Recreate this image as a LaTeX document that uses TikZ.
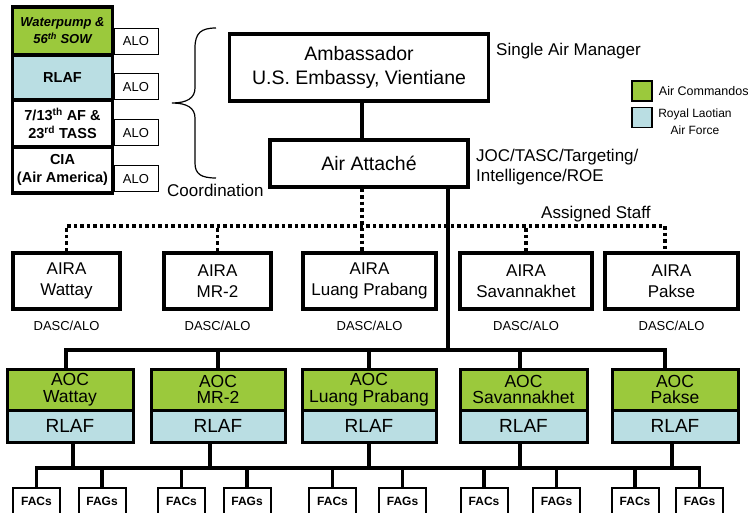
\documentclass[tikz,border=0pt]{standalone}
\usepackage{fontspec}
\setmainfont{Liberation Sans}
\definecolor{commando}{RGB}{155,201,60}
\definecolor{laos}{RGB}{186,222,227}
\usetikzlibrary{positioning}

\begin{document}
\begin{tikzpicture}[x=1pt, y=-1pt,
                    every node/.style = {text=black, inner sep=0pt, align=center},
                    box/.style = {draw, line width=3.5pt, font=\fontsize{19.5}{24}\selectfont},
                    aira/.style = {draw, line width=3.5pt, minimum height=56pt, font=\fontsize{17}{20.5}\selectfont},
                    aoc/.style = {draw, line width=3pt, fill=commando, minimum height=41pt, font=\fontsize{17.5}{16.5}\selectfont},
                    rlaf/.style = {draw, line width=3pt, fill=laos, minimum height=32pt, font=\fontsize{19}{22}\selectfont},
                    unit/.style = {draw, line width=3.5pt, minimum width=100pt, font=\bfseries\fontsize{14.5}{17.5}\selectfont},
                    alo/.style = {draw, line width=1pt, fill=white, minimum width=44pt, minimum height=26pt, font=\fontsize{13}{15}\selectfont},
                    fac/.style = {draw, line width=2pt, minimum width=47pt, minimum height=26pt, font=\bfseries\fontsize{12}{14}\selectfont},
                    note/.style = {font=\fontsize{13}{15}\selectfont},
                    say/.style = {font=\fontsize{17}{20}\selectfont, align=left},
                    link/.style = {draw, line width=3.5pt},
                    staff/.style = {draw, line width=3.5pt, dash pattern=on 3.5pt off 3pt}]
    \useasboundingbox (0,0) rectangle (753,513);
    \node (wp) [unit, fill=commando, minimum height=48pt, font=\bfseries\itshape\fontsize{13}{17}\selectfont] at (62.5,31) {Waterpump \&\\56\textsuperscript{th} SOW};
    \node (rl) [unit, fill=laos, minimum height=45pt] at (62.5,77.5) {RLAF};
    \node (af) [unit, minimum height=47pt] at (62.5,123.5) {7/13\textsuperscript{th} AF \&\\23\textsuperscript{rd} TASS};
    \node (cia) [unit, minimum height=46pt] at (62.5,170) {CIA\\(Air America)};
    \node (alo1) [alo] at (136,41.5) {ALO};
    \node (alo2) [alo] at (136,87) {ALO};
    \node (alo3) [alo] at (136,133) {ALO};
    \node (alo4) [alo] at (136,179) {ALO};
    \draw[line width=1.2pt] (216,28) .. controls (201,28) and (195,33) .. (195,48) -- (195,88)
        .. controls (195,98) and (187,103) .. (172,103) .. controls (187,103) and (195,108) .. (195,118)
        -- (195,163) .. controls (195,174) and (201,178) .. (216,178);
    \node (coord) [say, anchor=base west] at (167,197) {Coordination};
    \node (amb) [box, minimum width=259pt, minimum height=67pt] at (359,67.5) {Ambassador\\U.S. Embassy, Vientiane};
    \node (sam) [say, anchor=base west] at (496,56) {Single Air Manager};
    \node (att) [box, minimum width=198pt, minimum height=47pt] at (369,163.5) {Air Attaché};
    \node (joc) [say, anchor=north west] at (476,149) {JOC/TASC/Targeting/\\Intelligence/ROE};
    \node (gsq) [draw, line width=1.5pt, fill=commando, minimum size=20pt] at (642,91) {};
    \node (bsq) [draw, line width=1.5pt, fill=laos, minimum size=20pt] at (642,117.5) {};
    \node (gtx) [note, font=\fontsize{12.5}{15}\selectfont, right=6pt of gsq] {Air Commandos};
    \node (btx) [note, font=\fontsize{12}{17}\selectfont] at (695,122) {Royal Laotian\\Air Force};
    \node (as) [say, anchor=base west] at (541,219) {Assigned Staff};
    \node (aira1) [aira, minimum width=107pt] at (66.5,281) {AIRA\\Wattay};
    \node (aira2) [aira, minimum width=107pt] at (217.5,281) {AIRA\\MR-2};
    \node (aira3) [aira, minimum width=133pt] at (369.5,281) {AIRA\\Luang Prabang};
    \node (aira4) [aira, minimum width=132pt] at (526,281) {AIRA\\Savannakhet};
    \node (aira5) [aira, minimum width=133pt] at (671.5,281) {AIRA\\Pakse};
    \node (d1) [note, below=10pt of aira1] {DASC/ALO};
    \node (d2) [note, below=10pt of aira2] {DASC/ALO};
    \node (d3) [note, below=10pt of aira3] {DASC/ALO};
    \node (d4) [note, below=10pt of aira4] {DASC/ALO};
    \node (d5) [note, below=10pt of aira5] {DASC/ALO};
    \node (aoc1) [aoc, minimum width=126pt] at (70,389.5) {AOC\\Wattay};
    \node (aoc2) [aoc, minimum width=134pt] at (218,389.5) {AOC\\MR-2};
    \node (aoc3) [aoc, minimum width=134pt] at (369,389.5) {AOC\\Luang Prabang};
    \node (aoc4) [aoc, minimum width=127pt] at (523.5,389.5) {AOC\\Savannakhet};
    \node (aoc5) [aoc, minimum width=126pt] at (675,389.5) {AOC\\Pakse};
    \node (rlaf1) [rlaf, minimum width=126pt] at (70,426) {RLAF};
    \node (rlaf2) [rlaf, minimum width=134pt] at (218,426) {RLAF};
    \node (rlaf3) [rlaf, minimum width=134pt] at (369,426) {RLAF};
    \node (rlaf4) [rlaf, minimum width=127pt] at (523.5,426) {RLAF};
    \node (rlaf5) [rlaf, minimum width=126pt] at (675,426) {RLAF};
    \node (fac1) [fac] at (36.5,501) {FACs};
    \node (fag1) [fac] at (102,501) {FAGs};
    \node (fac2) [fac] at (181.5,501) {FACs};
    \node (fag2) [fac] at (247,501) {FAGs};
    \node (fac3) [fac] at (332.5,501) {FACs};
    \node (fag3) [fac] at (402.5,501) {FAGs};
    \node (fac4) [fac] at (484,501) {FACs};
    \node (fag4) [fac] at (556.5,501) {FAGs};
    \node (fac5) [fac] at (635,501) {FACs};
    \node (fag5) [fac] at (699.5,501) {FAGs};
    \coordinate (sb) at (362,226);
    \coordinate (ab) at (448,350);
    \coordinate (fb) at (36,468);
    \draw[link] ([xshift=3pt]amb.south) -- ([xshift=3pt]amb.south |- att.north);
    \draw[staff] (att.south -| sb) -- (sb |- aira3.north);
    \draw[staff] (aira1.north) -- (aira1.north |- sb) -- ([xshift=-6.5pt]aira5.north |- sb) -- ([xshift=-6.5pt]aira5.north);
    \draw[staff] (aira2.north) -- (aira2.north |- sb);
    \draw[staff] (aira4.north) -- (aira4.north |- sb);
    \draw[link] (att.south -| ab) -- (ab);
    \draw[link] ([xshift=-4pt]aoc1.north) -- ([xshift=-4pt]aoc1.north |- ab) -- ([xshift=-10pt]aoc5.north |- ab) -- ([xshift=-10pt]aoc5.north);
    \draw[link] (aoc2.north) -- (aoc2.north |- ab);
    \draw[link] (aoc3.north) -- (aoc3.north |- ab);
    \draw[link] ([xshift=-3.5pt]aoc4.north) -- ([xshift=-3.5pt]aoc4.north |- ab);
    \draw[link] ([xshift=3pt]rlaf1.south) -- ([xshift=3pt]rlaf1.south |- fb);
    \draw[link] ([xshift=-8pt]rlaf2.south) -- ([xshift=-8pt]rlaf2.south |- fb);
    \draw[link] (rlaf3.south) -- (rlaf3.south |- fb);
    \draw[link] ([xshift=-3.5pt]rlaf4.south) -- ([xshift=-3.5pt]rlaf4.south |- fb);
    \draw[link] ([xshift=-3pt]rlaf5.south) -- ([xshift=-3pt]rlaf5.south |- fb);
    \draw[link] (fac1.north) -- (fac1.north |- fb) -- (fag5.north |- fb) -- (fag5.north);
    \draw[link] (fag1.north) -- (fag1.north |- fb);
    \draw[link] (fac2.north) -- (fac2.north |- fb);
    \draw[link] (fag2.north) -- (fag2.north |- fb);
    \draw[link] (fac3.north) -- (fac3.north |- fb);
    \draw[link] (fag3.north) -- (fag3.north |- fb);
    \draw[link] (fac4.north) -- (fac4.north |- fb);
    \draw[link] (fag4.north) -- (fag4.north |- fb);
    \draw[link] (fac5.north) -- (fac5.north |- fb);
\end{tikzpicture}
\end{document}
